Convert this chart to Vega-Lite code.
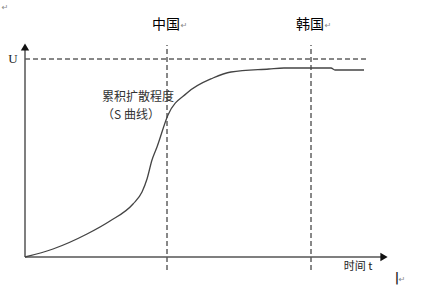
{
  "$schema": "https://vega.github.io/schema/vega-lite/v6.json",
  "width": 428,
  "height": 294,
  "autosize": {"type": "fit", "contains": "padding"},
  "padding": 0,
  "background": "white",
  "config": {"view": {"stroke": null}},
  "encoding": {
    "x": {"field": "x", "type": "quantitative", "axis": null, "scale": {"domain": [-25, 403], "nice": false, "zero": false}},
    "y": {"field": "y", "type": "quantitative", "axis": null, "scale": {"domain": [-37, 257], "nice": false, "zero": false}}
  },
  "layer": [
    {
      "data": {"values": [{"x": 0, "y": 198, "x2": 342}]},
      "mark": {"type": "rule", "color": "#111", "strokeWidth": 1, "strokeDash": [5, 3]},
      "encoding": {"x2": {"field": "x2"}}
    },
    {
      "data": {"values": [{"x": 142, "y": -13, "y2": 212, "country": "中国"}, {"x": 286, "y": -13, "y2": 212, "country": "韩国"}]},
      "mark": {"type": "rule", "color": "#111", "strokeWidth": 1, "strokeDash": [5, 3]},
      "encoding": {"y2": {"field": "y2"}}
    },
    {
      "data": {"values": [{"x": 0, "y": 0, "x2": 358, "y2": 0}, {"x": 0, "y": 0, "x2": 0, "y2": 210}]},
      "mark": {"type": "rule", "color": "#555", "strokeWidth": 1.5},
      "encoding": {"x2": {"field": "x2"}, "y2": {"field": "y2"}}
    },
    {
      "data": {"values": [{"x": 0, "y": 210, "dir": "up"}]},
      "mark": {"type": "point", "shape": "triangle-up", "filled": true, "color": "#111", "size": 70, "opacity": 1}
    },
    {
      "data": {"values": [{"x": 359, "y": 0, "dir": "right"}]},
      "mark": {"type": "point", "shape": "triangle-right", "filled": true, "color": "#111", "size": 70, "opacity": 1}
    },
    {
      "data": {"values": [
        {"x": 0, "y": 0}, {"x": 28, "y": 8}, {"x": 62, "y": 23}, {"x": 85, "y": 36},
        {"x": 108, "y": 53}, {"x": 117, "y": 65}, {"x": 122, "y": 78}, {"x": 127, "y": 97}, {"x": 132, "y": 110},
        {"x": 143, "y": 142}, {"x": 162, "y": 164}, {"x": 188, "y": 179}, {"x": 206, "y": 185},
        {"x": 244, "y": 188}, {"x": 259, "y": 189}, {"x": 306, "y": 189}, {"x": 310, "y": 187},
        {"x": 339, "y": 187}
      ]},
      "mark": {"type": "line", "color": "#444", "strokeWidth": 1.3, "interpolate": "monotone"}
    },
    {
      "data": {"values": [{"x": 141, "y": 232, "label": "中国"}, {"x": 285, "y": 232, "label": "韩国"}]},
      "mark": {"type": "text", "font": "Noto Sans CJK SC", "fontSize": 14, "color": "#000", "align": "center", "baseline": "middle"},
      "encoding": {"text": {"field": "label"}}
    },
    {
      "data": {"values": [{"x": 113, "y": 160, "label": "累积扩散程度"}, {"x": 106, "y": 142, "label": "（S 曲线）"}]},
      "mark": {"type": "text", "font": "Noto Sans CJK SC", "fontSize": 12, "color": "#333", "align": "center", "baseline": "middle"},
      "encoding": {"text": {"field": "label"}}
    },
    {
      "data": {"values": [{"x": 333, "y": -10, "label": "时间 t"}]},
      "mark": {"type": "text", "font": "Noto Sans CJK SC", "fontSize": 11, "color": "#222", "align": "center", "baseline": "middle"},
      "encoding": {"text": {"field": "label"}}
    },
    {
      "data": {"values": [{"x": -12, "y": 198, "label": "U"}]},
      "mark": {"type": "text", "font": "Liberation Serif", "fontSize": 13, "color": "#222", "align": "center", "baseline": "middle"},
      "encoding": {"text": {"field": "label"}}
    },
    {
      "data": {"values": [{"x": 372, "y": -21, "label": "|"}]},
      "mark": {"type": "text", "font": "DejaVu Sans", "fontSize": 12, "fontWeight": "bold", "color": "#222", "align": "center", "baseline": "middle"},
      "encoding": {"text": {"field": "label"}}
    },
    {
      "data": {"values": [{"x": -20, "y": 249, "label": "↵"}, {"x": 159, "y": 231, "label": "↵"}, {"x": 303, "y": 231, "label": "↵"}, {"x": 377, "y": -23, "label": "↵"}]},
      "mark": {"type": "text", "font": "DejaVu Sans", "fontSize": 8, "color": "#888", "align": "center", "baseline": "middle"},
      "encoding": {"text": {"field": "label"}}
    }
  ]
}
